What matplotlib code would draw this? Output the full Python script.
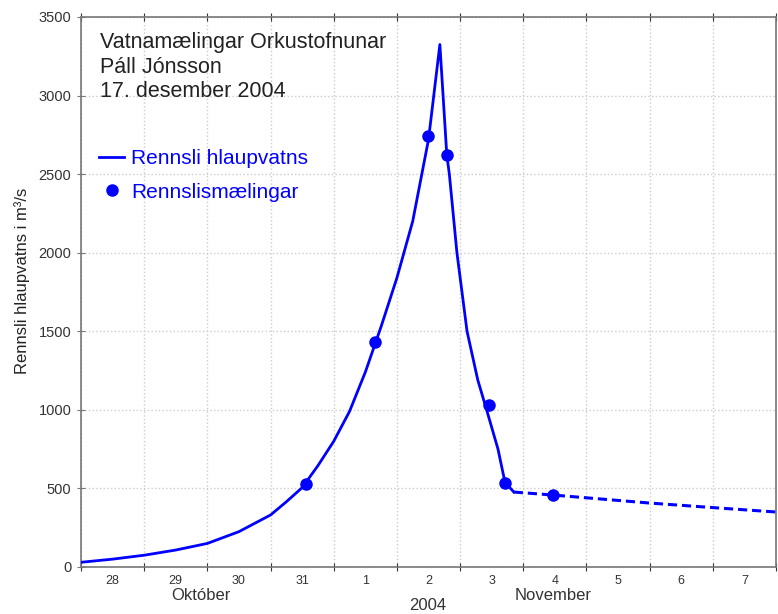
import matplotlib
matplotlib.use("Agg")
import matplotlib.pyplot as plt

# Days since 28 Oct 2004 00:00
flow_days = [0.0, 0.5, 1.0, 1.5, 2.0, 2.5, 3.0, 3.25, 3.5, 3.75, 4.0, 4.25, 4.5, 4.75,
             5.0, 5.25, 5.5, 5.68,
             5.79, 5.83, 5.95, 6.11, 6.28, 6.42, 6.6, 6.71, 6.85]
flow_vals = [30, 50, 75, 108, 150, 225, 331, 415, 505, 645, 800, 990, 1240, 1530,
             1840, 2200, 2720, 3325,
             2620, 2500, 2000, 1500, 1190, 1000, 750, 540, 477]

est_days = [6.85, 7.47, 9.0, 10.0, 11.0]
est_vals = [477, 458, 407, 378, 350]

meas_days = [3.56, 4.65, 5.49, 5.79, 6.46, 6.71, 7.47]
meas_vals = [530, 1435, 2740, 2620, 1030, 535, 458]

day_labels = ['28', '29', '30', '31', '1', '2', '3', '4', '5', '6', '7']
y_ticks = [0, 500, 1000, 1500, 2000, 2500, 3000, 3500]

BLUE = '#0000ff'
FONT = 'Liberation Sans'
plt.rcParams['font.family'] = [FONT, 'DejaVu Sans']

fig = plt.figure(figsize=(7.78, 6.14), dpi=100)
ax = fig.add_axes([81/778, 47/614, 695/778, 550/614])

ax.plot(flow_days, flow_vals, color=BLUE, lw=2.0, label='Rennsli hlaupvatns', zorder=3)
ax.plot(est_days, est_vals, color=BLUE, lw=2.2, ls=(0, (3, 1.6)), zorder=3)
ax.plot(meas_days, meas_vals, ls='none', marker='o', ms=8, color=BLUE,
        label='Rennslismælingar', zorder=4)

ax.set_xlim(0, 11)
ax.set_ylim(0, 3500)
ax.set_xticks(range(0, 12))
ax.set_xticklabels([])
ax.set_xticks([i + 0.5 for i in range(11)], minor=True)
ax.set_xticklabels(day_labels, minor=True, fontsize=9, color='#333333')
ax.tick_params(axis='x', which='minor', length=0, pad=6)
ax.tick_params(axis='x', which='major', direction='inout', length=6, color='#333333')
ax.set_yticks(y_ticks)
ax.set_yticklabels([str(v) for v in y_ticks], fontsize=10.5, color='#333333')
ax.tick_params(axis='y', direction='inout', length=6, color='#777777', pad=4)
ax.tick_params(top=True, which='major', axis='x')

ax.grid(True, which='major', color='#cccccc', ls=':', lw=1.0)
for s in ax.spines.values():
    s.set_color('#777777')
    s.set_linewidth(1.2)

ax.set_ylabel('Rennsli hlaupvatns i m³/s', fontsize=12, color='#222222')
ax.yaxis.set_label_coords((-81 + 30) / 695, 0.52)

fig.text(201/778, 1 - 596/614, 'Október', ha='center', va='center', fontsize=12, color='#333333')
fig.text(553/778, 1 - 596/614, 'November', ha='center', va='center', fontsize=12, color='#333333')
fig.text(428/778, 1 - 605/614, '2004', ha='center', va='center', fontsize=12, color='#333333')

ax.text(0.027, 0.972, 'Vatnamælingar Orkustofnunar\nPáll Jónsson\n17. desember 2004',
        transform=ax.transAxes, ha='left', va='top', fontsize=15.5, color='#222222',
        linespacing=1.2)

leg = ax.legend(loc='upper left', bbox_to_anchor=(0.014, 0.775), frameon=False,
                fontsize=15, labelcolor=BLUE, handlelength=1.2, handletextpad=0.35,
                borderaxespad=0, labelspacing=0.7)

fig.savefig('out.png', dpi=100)
